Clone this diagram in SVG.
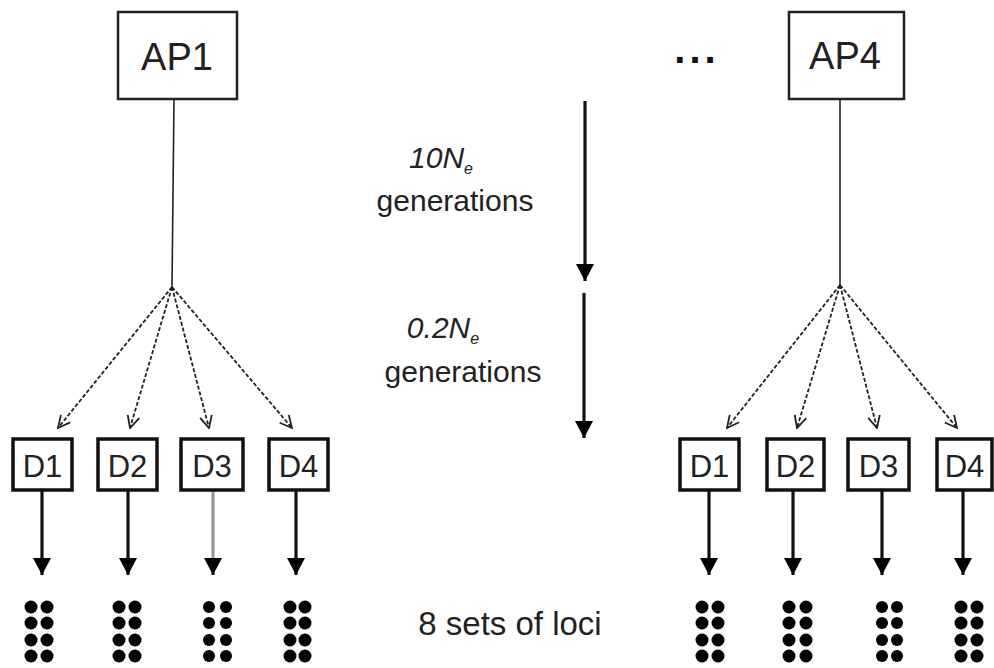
<svg xmlns="http://www.w3.org/2000/svg" width="994" height="668" viewBox="0 0 994 668">
<style>
.ap{fill:#fff;stroke:#222;stroke-width:2.5}
.d{fill:#fff;stroke:#111;stroke-width:3.5}
.lbl{font-family:"Liberation Sans",Arial,sans-serif;fill:#222;text-anchor:middle}
.fan{stroke:#222;stroke-width:1.8;stroke-dasharray:4 2;fill:none}
.stem{stroke:#222;stroke-width:1.6}
.thick{stroke:#111;stroke-width:3.2}
.dot{fill:#000}
</style>
<defs>
<marker id="open" markerUnits="userSpaceOnUse" viewBox="0 0 14 14" refX="13" refY="7" markerWidth="14" markerHeight="14" orient="auto">
<path d="M1,1 L13,7 L1,13" fill="none" stroke="#222" stroke-width="1.8"/>
</marker>
<marker id="fill" markerUnits="userSpaceOnUse" viewBox="0 0 18 18" refX="17" refY="9" markerWidth="18" markerHeight="18" orient="auto">
<path d="M0,0 L17,9 L0,18 z" fill="#000"/>
</marker>
</defs>
<rect width="994" height="668" fill="#fff"/>

<g id="connectors">
<line class="stem" x1="174" y1="99" x2="172" y2="287"/>
<line class="fan" x1="172" y1="287" x2="58" y2="428" marker-end="url(#open)"/>
<line class="fan" x1="172" y1="287" x2="130" y2="428" marker-end="url(#open)"/>
<line class="fan" x1="172" y1="287" x2="209" y2="428" marker-end="url(#open)"/>
<line class="fan" x1="172" y1="287" x2="292" y2="428" marker-end="url(#open)"/>
<line class="stem" x1="840" y1="99" x2="840" y2="285"/>
<line class="fan" x1="840" y1="285" x2="727" y2="428" marker-end="url(#open)"/>
<line class="fan" x1="840" y1="285" x2="797" y2="428" marker-end="url(#open)"/>
<line class="fan" x1="840" y1="285" x2="877" y2="428" marker-end="url(#open)"/>
<line class="fan" x1="840" y1="285" x2="957" y2="428" marker-end="url(#open)"/>
<line class="thick" x1="42" y1="490" x2="42" y2="575" marker-end="url(#fill)"/>
<line class="thick" x1="128" y1="490" x2="128" y2="575" marker-end="url(#fill)"/>
<line x1="213" y1="490" x2="213" y2="560" stroke="#999" stroke-width="3.2"/>
<line class="thick" x1="213" y1="558" x2="213" y2="575" marker-end="url(#fill)"/>
<line class="thick" x1="296" y1="490" x2="296" y2="575" marker-end="url(#fill)"/>
<line class="thick" x1="709" y1="490" x2="709" y2="575" marker-end="url(#fill)"/>
<line class="thick" x1="793" y1="490" x2="793" y2="575" marker-end="url(#fill)"/>
<line class="thick" x1="882" y1="490" x2="882" y2="575" marker-end="url(#fill)"/>
<line class="thick" x1="963" y1="490" x2="963" y2="575" marker-end="url(#fill)"/>
<line class="thick" x1="585" y1="101" x2="585" y2="281" marker-end="url(#fill)"/>
<line class="thick" x1="584" y1="293" x2="584" y2="438" marker-end="url(#fill)"/>
</g>

<g id="AP1"><rect class="ap" x="118" y="12" width="119" height="87"/><text class="lbl" x="177" y="70" font-size="38">AP1</text></g>
<g id="AP4"><rect class="ap" x="789" y="12" width="115" height="87"/><text class="lbl" x="845" y="69" font-size="38">AP4</text></g>
<g id="ellipsis"><text x="697" y="63" font-family="Liberation Sans,Arial,sans-serif" font-weight="bold" font-size="40" text-anchor="middle" letter-spacing="4" fill="#111">...</text></g>

<g id="L-D1"><rect class="d" x="13" y="439" width="59" height="51"/><text class="lbl" x="42.5" y="477" font-size="31">D1</text></g>
<g id="L-D2"><rect class="d" x="98" y="439" width="59" height="51"/><text class="lbl" x="127.5" y="477" font-size="31">D2</text></g>
<g id="L-D3"><rect class="d" x="181" y="439" width="62" height="51"/><text class="lbl" x="212" y="477" font-size="31">D3</text></g>
<g id="L-D4"><rect class="d" x="269" y="439" width="59" height="51"/><text class="lbl" x="298.5" y="477" font-size="31">D4</text></g>
<g id="R-D1"><rect class="d" x="680" y="439" width="59" height="51"/><text class="lbl" x="709.5" y="477" font-size="31">D1</text></g>
<g id="R-D2"><rect class="d" x="767" y="439" width="57" height="51"/><text class="lbl" x="795.5" y="477" font-size="31">D2</text></g>
<g id="R-D3"><rect class="d" x="848" y="439" width="61" height="51"/><text class="lbl" x="878.5" y="477" font-size="31">D3</text></g>
<g id="R-D4"><rect class="d" x="937" y="439" width="55" height="51"/><text class="lbl" x="964.5" y="477" font-size="31">D4</text></g>

<g id="time-labels" class="lbl">
<text x="441" y="168" font-size="30" font-style="italic">10N<tspan font-size="16" dy="6">e</tspan></text>
<text x="455" y="211" font-size="30">generations</text>
<text x="443" y="338" font-size="30" font-style="italic">0.2N<tspan font-size="16" dy="6">e</tspan></text>
<text x="463" y="382" font-size="30">generations</text>
</g>
<g id="loci-label"><text class="lbl" x="510" y="635" font-size="33">8 sets of loci</text></g>

<g id="loci">
<g id="loci-L1"><circle class="dot" cx="31" cy="607" r="6.5"/><circle class="dot" cx="47" cy="607" r="6.5"/><circle class="dot" cx="31" cy="623" r="6.5"/><circle class="dot" cx="47" cy="623" r="6.5"/><circle class="dot" cx="31" cy="640" r="6.5"/><circle class="dot" cx="47" cy="640" r="6.5"/><circle class="dot" cx="31" cy="656" r="6.5"/><circle class="dot" cx="47" cy="656" r="6.5"/></g>
<g id="loci-L2"><circle class="dot" cx="119" cy="607" r="6.5"/><circle class="dot" cx="135" cy="607" r="6.5"/><circle class="dot" cx="119" cy="623" r="6.5"/><circle class="dot" cx="135" cy="623" r="6.5"/><circle class="dot" cx="119" cy="640" r="6.5"/><circle class="dot" cx="135" cy="640" r="6.5"/><circle class="dot" cx="119" cy="656" r="6.5"/><circle class="dot" cx="135" cy="656" r="6.5"/></g>
<g id="loci-L3"><circle class="dot" cx="209" cy="607" r="6"/><circle class="dot" cx="226" cy="607" r="6"/><circle class="dot" cx="209" cy="623" r="6"/><circle class="dot" cx="226" cy="623" r="6"/><circle class="dot" cx="209" cy="640" r="6"/><circle class="dot" cx="226" cy="640" r="6"/><circle class="dot" cx="209" cy="656" r="6"/><circle class="dot" cx="226" cy="656" r="6"/></g>
<g id="loci-L4"><circle class="dot" cx="290" cy="607" r="6.5"/><circle class="dot" cx="305" cy="607" r="6.5"/><circle class="dot" cx="290" cy="623" r="6.5"/><circle class="dot" cx="305" cy="623" r="6.5"/><circle class="dot" cx="290" cy="640" r="6.5"/><circle class="dot" cx="305" cy="640" r="6.5"/><circle class="dot" cx="290" cy="656" r="6.5"/><circle class="dot" cx="305" cy="656" r="6.5"/></g>
<g id="loci-R1"><circle class="dot" cx="702" cy="607" r="6.5"/><circle class="dot" cx="718" cy="607" r="6.5"/><circle class="dot" cx="702" cy="623" r="6.5"/><circle class="dot" cx="718" cy="623" r="6.5"/><circle class="dot" cx="702" cy="640" r="6.5"/><circle class="dot" cx="718" cy="640" r="6.5"/><circle class="dot" cx="702" cy="656" r="6.5"/><circle class="dot" cx="718" cy="656" r="6.5"/></g>
<g id="loci-R2"><circle class="dot" cx="789" cy="607" r="6.5"/><circle class="dot" cx="806" cy="607" r="6.5"/><circle class="dot" cx="789" cy="623" r="6.5"/><circle class="dot" cx="806" cy="623" r="6.5"/><circle class="dot" cx="789" cy="640" r="6.5"/><circle class="dot" cx="806" cy="640" r="6.5"/><circle class="dot" cx="789" cy="656" r="6.5"/><circle class="dot" cx="806" cy="656" r="6.5"/></g>
<g id="loci-R3"><circle class="dot" cx="882" cy="607" r="6"/><circle class="dot" cx="897" cy="607" r="6"/><circle class="dot" cx="882" cy="623" r="6"/><circle class="dot" cx="897" cy="623" r="6"/><circle class="dot" cx="882" cy="640" r="6"/><circle class="dot" cx="897" cy="640" r="6"/><circle class="dot" cx="882" cy="656" r="6"/><circle class="dot" cx="897" cy="656" r="6"/></g>
<g id="loci-R4"><circle class="dot" cx="961" cy="607" r="6.5"/><circle class="dot" cx="977" cy="607" r="6.5"/><circle class="dot" cx="961" cy="623" r="6.5"/><circle class="dot" cx="977" cy="623" r="6.5"/><circle class="dot" cx="961" cy="640" r="6.5"/><circle class="dot" cx="977" cy="640" r="6.5"/><circle class="dot" cx="961" cy="656" r="6.5"/><circle class="dot" cx="977" cy="656" r="6.5"/></g>
</g>
</svg>
